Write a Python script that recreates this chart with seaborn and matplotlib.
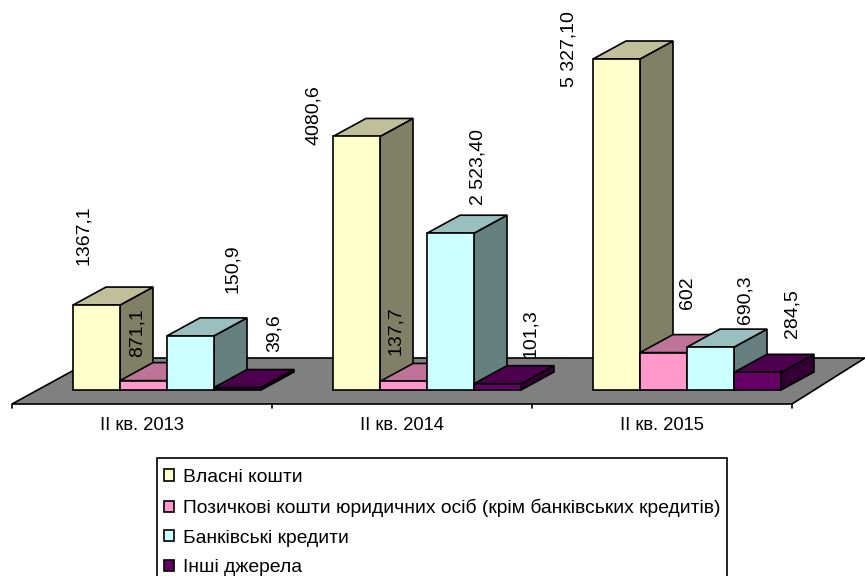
import matplotlib
matplotlib.use("Agg")
import matplotlib.pyplot as plt
from matplotlib.patches import Polygon, Rectangle
import pandas as pd
import seaborn as sns

periods = ["ІІ кв. 2013", "ІІ кв. 2014", "ІІ кв. 2015"]
sources = ["Власні кошти",
           "Позичкові кошти юридичних осіб (крім банківських кредитів)",
           "Банківські кредити",
           "Інші джерела"]
own_funds = [1367.1, 4080.6, 5327.1]
loans = [150.9, 137.7, 602.0]
bank_credit = [871.1, 2523.4, 690.3]
other = [39.6, 101.3, 284.5]

own_labels = ["1367,1", "4080,6", "5 327,10"]
loans_labels = ["871,1", "137,7", "602"]
bank_labels = ["150,9", "2 523,40", "690,3"]
other_labels = ["39,6", "101,3", "284,5"]

colors = ["#FFFFCC", "#FF99CC", "#CCFFFF", "#660066"]

# layout, in pixels of the 865x576 picture
W, H = 865, 576
PLOT_L, PLOT_R, BASE_Y = 37, 817, 390
PX_PER_UNIT = 331 / 5327.1
DEPTH_X, DEPTH_Y = 33, 18
FLOOR_X, FLOOR_Y = 25, 14
FLOOR_BACK_X, FLOOR_BACK_Y = 73, 32
LW = 1.2
# label centre relative to the top centre of each bar, pixels (right, up)
label_shift = [
    [(-13.5, 69.5), (-43.0, 21.5), (-47.5, 10)],
    [(-6.5, 47.6), (-8.5, 50.4), (23.5, 59.5)],
    [(42.5, 67), (27.5, 66), (35.0, 47)],
    [(36.5, 54.5), (33.0, 49.7), (34.5, 58.3)],
]

sns.set_theme(style="white", rc={"font.family": ["Liberation Sans", "DejaVu Sans"]})
plt.rcParams["font.family"] = ["Liberation Sans", "DejaVu Sans"]

df = pd.DataFrame({
    "period": periods * 4,
    "source": [s for s in sources for _ in periods],
    "value": own_funds + loans + bank_credit + other,
})

fig = plt.figure(figsize=(W / 100, H / 100), dpi=100)
ax = fig.add_axes([PLOT_L / W, 1 - BASE_Y / H, (PLOT_R - PLOT_L) / W, BASE_Y / H])
sns.barplot(data=df, x="period", y="value", hue="source", hue_order=sources,
            palette=colors, saturation=1, width=0.723, gap=0, dodge=True,
            edgecolor="black", linewidth=LW, errorbar=None, ax=ax)
ax.set_xlim(-0.5, 2.5)
ax.set_ylim(0, BASE_Y / PX_PER_UNIT)
ax.axis("off")

ux = 3 / (PLOT_R - PLOT_L)   # data units in one pixel, x
uy = 1 / PX_PER_UNIT         # data units in one pixel, y


def shade(color, k):
    r, g, b = matplotlib.colors.to_rgb(color)
    return (r * k, g * k, b * k)


# floor
x0, x1 = -0.5 - FLOOR_X * ux, 2.5 - FLOOR_X * ux
y0 = -FLOOR_Y * uy
floor = Polygon([(x0, y0), (x1, y0),
                 (x1 + FLOOR_BACK_X * ux, (FLOOR_BACK_Y + 14 - FLOOR_Y) * uy),
                 (x0 + 84 * ux, (FLOOR_BACK_Y + 14 - FLOOR_Y) * uy)],
                closed=True, facecolor="#808080", edgecolor="black",
                linewidth=LW, clip_on=False, zorder=1)
ax.add_patch(floor)
for i in range(4):
    xt = x0 + i
    ax.plot([xt, xt], [y0, y0 - 4 * uy], color="black", lw=LW, clip_on=False, zorder=1)
for i, name in enumerate(periods):
    ax.text(i + x0 + 0.5, y0 - 22 * uy, name, ha="center", va="center",
            fontsize=13.2, clip_on=False, color="black")

# depth faces and labels, drawn from the bars themselves
dx, dy = DEPTH_X * ux, DEPTH_Y * uy
all_labels = [own_labels, loans_labels, bank_labels, other_labels]
for s, container in enumerate(ax.containers):
    color = colors[s]
    for c, bar in enumerate(container):
        z = 3 + s
        bar.set_zorder(z + 0.5)
        bar.set_clip_on(False)
        bx, bw, bh = bar.get_x(), bar.get_width(), bar.get_height()
        side = Polygon([(bx + bw, 0), (bx + bw + dx, dy), (bx + bw + dx, bh + dy), (bx + bw, bh)],
                       closed=True, facecolor=shade(color, 0.5), edgecolor="black",
                       linewidth=LW, zorder=z, clip_on=False)
        top = Polygon([(bx, bh), (bx + dx, bh + dy), (bx + bw + dx, bh + dy), (bx + bw, bh)],
                      closed=True, facecolor=shade(color, 0.75), edgecolor="black",
                      linewidth=LW, zorder=z, clip_on=False)
        ax.add_patch(side)
        ax.add_patch(top)
        ax.annotate(all_labels[s][c], xy=(bx + bw / 2, bh), xytext=label_shift[s][c],
                    textcoords="offset pixels", rotation=90, ha="center", va="center",
                    fontsize=14, color="black", zorder=20, annotation_clip=False)

# legend box runs past the bottom edge of the picture
ax.add_patch(Rectangle((157 / W, 1 - 590 / H), 570 / W, 132 / H, transform=fig.transFigure,
                       facecolor="white", edgecolor="black", linewidth=LW,
                       clip_on=False, zorder=25))

handles, labels = ax.get_legend_handles_labels()
if ax.get_legend() is not None:
    ax.get_legend().remove()
leg = ax.legend(handles, labels, loc="upper left",
                bbox_to_anchor=(157 / W, 1 - 462 / H), bbox_transform=fig.transFigure,
                fontsize=13.85, frameon=False, handlelength=0.52, handleheight=0.52,
                handletextpad=0.46, labelspacing=0.66, borderpad=0.36, borderaxespad=0,
                labelcolor="black")
leg.set_zorder(30)
for h in leg.legend_handles:
    h.set_edgecolor("black")
    h.set_linewidth(LW)

fig.savefig("out.png", dpi=100)
